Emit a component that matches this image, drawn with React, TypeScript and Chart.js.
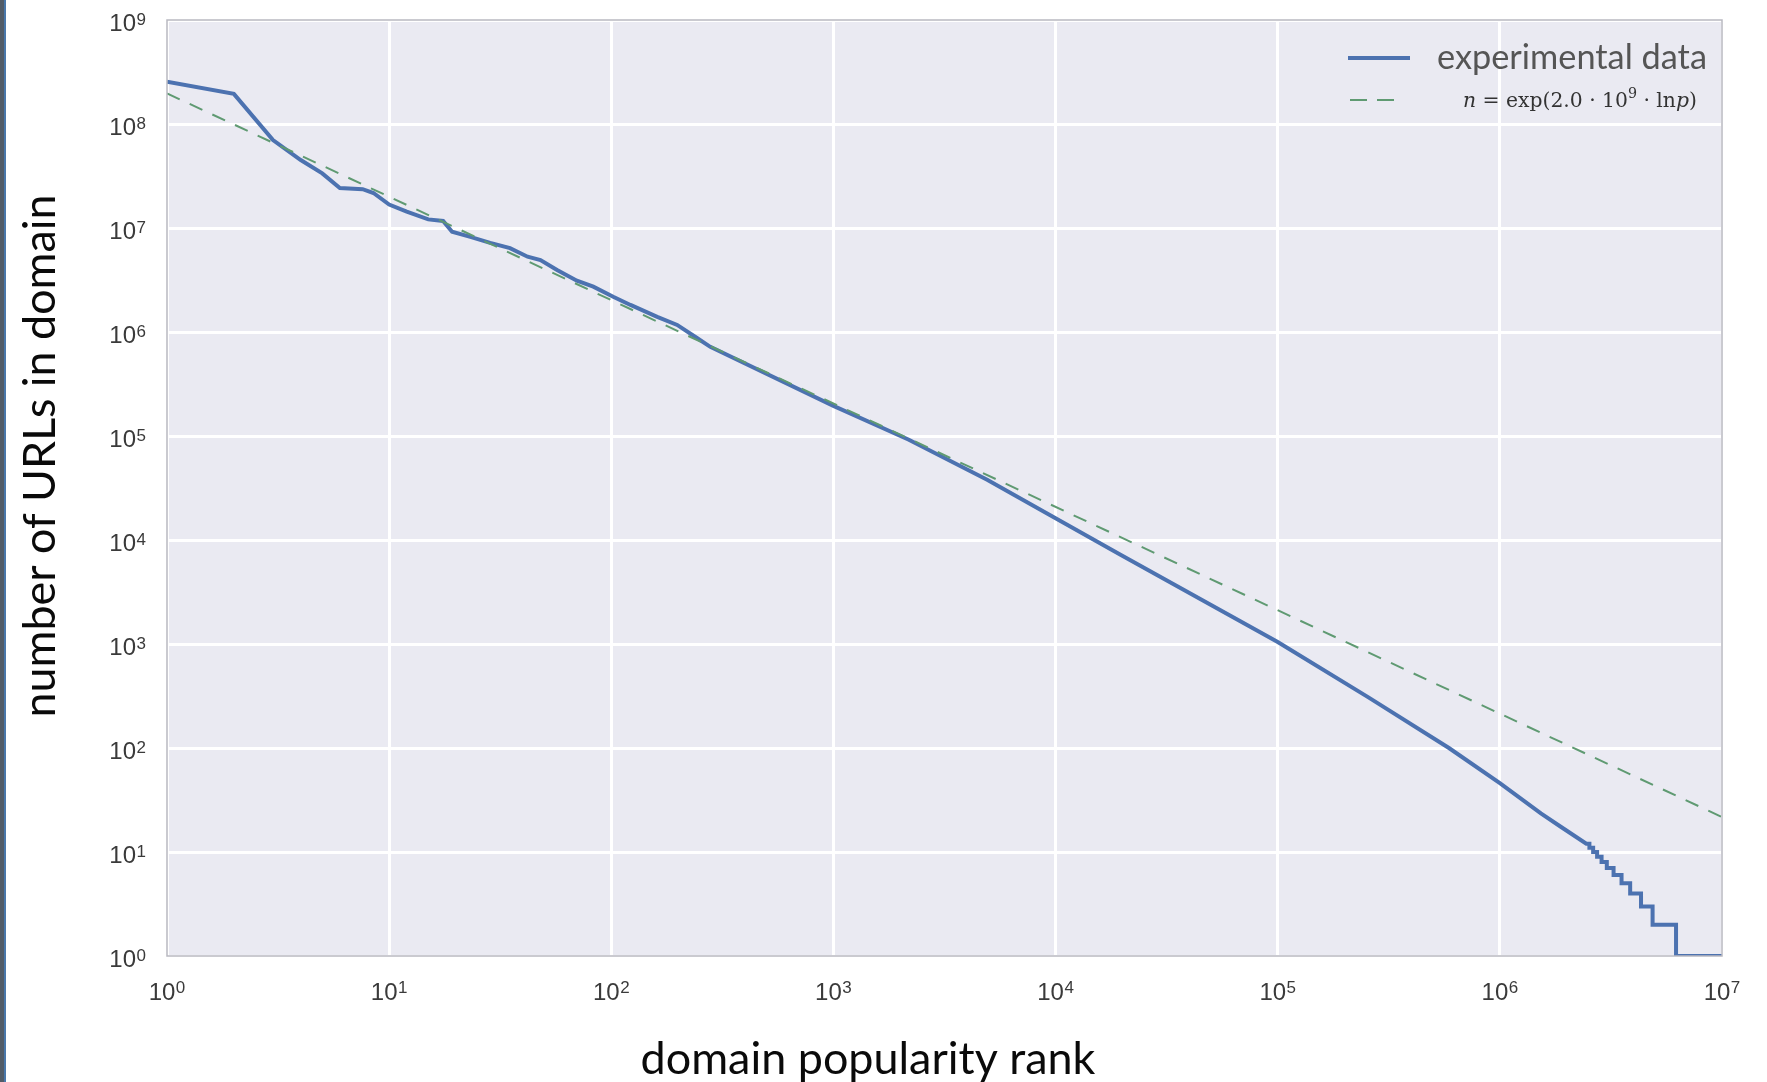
import React, { useEffect, useRef } from 'react';
import { Chart, registerables } from 'chart.js';

Chart.register(...registerables);

// ---- data ----
const rankValues = [
  1, 2, 3, 4, 5, 6, 7.6, 8.5, 10, 12,
  15, 17.5, 19.2, 23, 28.5, 35, 42, 48, 57, 70,
  83, 102, 122, 161, 198, 244, 279, 1000, 2185, 4920,
  1e4, 1.96e4, 1e5, 2.54e5, 5.9e5, 1e6, 1.53e6, 1.88e6,
  2.45e6, 2.53e6, 2.53e6, 2.63e6, 2.63e6, 2.74e6, 2.74e6, 2.87e6, 2.87e6, 3.03e6,
  3.03e6, 3.25e6, 3.25e6, 3.53e6, 3.53e6, 3.86e6, 3.86e6, 4.32e6, 4.32e6, 4.87e6,
  4.87e6, 6.21e6, 6.21e6, 1e7,
];
const urlCounts = [
  2.55e8, 1.95e8, 7.0e7, 4.5e7, 3.35e7, 2.42e7, 2.36e7, 2.17e7, 1.68e7, 1.44e7,
  1.21e7, 1.17e7, 9.2e6, 8.25e6, 7.2e6, 6.4e6, 5.3e6, 4.92e6, 3.95e6, 3.11e6,
  2.73e6, 2.18e6, 1.82e6, 1.40e6, 1.17e6, 8.7e5, 7.2e5, 1.95e5, 9.2e4, 3.8e4,
  1.62e4, 7.2e3, 1045, 310, 100, 46, 23.5, 17.5,
  12, 12, 11, 11, 10, 10, 9, 9, 8, 8,
  7, 7, 6, 6, 5, 5, 4, 4, 3, 3,
  2, 2, 1, 1,
];
const fitRanks = [1, 1e7];
const fitCounts = [1.97e8, 21.7];

const xTickExponents = [0, 1, 2, 3, 4, 5, 6, 7];
const yTickExponents = [0, 1, 2, 3, 4, 5, 6, 7, 8, 9];

const seriesLabel = 'experimental data';
const fitLabelParts = [
  { t: 'n', italic: true },
  { t: ' = exp(2.0 · 10' },
  { t: '9', sup: true },
  { t: ' · ln' },
  { t: 'p', italic: true },
  { t: ')' },
];
const xTitle = 'domain popularity rank';
const yTitle = 'number of URLs in domain';

const W = 1767;
const H = 1082;

const BLUE = '#4c72b0';
const GREEN = '#5f9a72';

function fitSize(ctx: CanvasRenderingContext2D, text: string, family: string, target: number, style = '') {
  ctx.font = `${style} 100px ${family}`;
  const w = ctx.measureText(text).width;
  return (100 * target) / w;
}

const decorPlugin = {
  id: 'decor',
  beforeDraw(chart: any) {
    const { ctx, chartArea: a } = chart;
    ctx.save();
    ctx.fillStyle = '#eaeaf2';
    ctx.fillRect(a.left, a.top, a.right - a.left, a.bottom - a.top);
    ctx.restore();
  },
  afterDraw(chart: any) {
    const { ctx, chartArea: a } = chart;
    const xs = chart.scales.x;
    const ys = chart.scales.y;
    ctx.save();

    // frame
    ctx.strokeStyle = '#b9b9c1';
    ctx.lineWidth = 1.5;
    ctx.strokeRect(a.left, a.top, a.right - a.left, a.bottom - a.top);

    const tickFont = '"Liberation Sans", Arial, sans-serif';
    ctx.fillStyle = '#3a3a3a';
    ctx.textBaseline = 'alphabetic';

    // y tick labels
    for (const e of yTickExponents) {
      const y = ys.getPixelForValue(Math.pow(10, e));
      ctx.font = `17px ${tickFont}`;
      const ew = ctx.measureText(String(e)).width;
      ctx.textAlign = 'right';
      ctx.fillText(String(e), 146, y + 5);
      ctx.font = `24px ${tickFont}`;
      ctx.fillText('10', 146 - ew - 0.5, y + 11);
    }

    // x tick labels
    for (const e of xTickExponents) {
      const x = xs.getPixelForValue(Math.pow(10, e));
      ctx.font = `24px ${tickFont}`;
      const bw = ctx.measureText('10').width;
      ctx.font = `17px ${tickFont}`;
      const ew = ctx.measureText(String(e)).width;
      const left = x - (bw + ew + 0.5) / 2;
      ctx.textAlign = 'left';
      ctx.font = `24px ${tickFont}`;
      ctx.fillText('10', left, 1000);
      ctx.font = `17px ${tickFont}`;
      ctx.fillText(String(e), left + bw + 0.5, 993);
    }

    // axis titles
    const titleFont = 'Lato, "Open Sans", sans-serif';
    ctx.fillStyle = '#0a0a0a';
    let s = fitSize(ctx, xTitle, titleFont, 455);
    ctx.font = `${s}px ${titleFont}`;
    ctx.textAlign = 'center';
    ctx.textBaseline = 'alphabetic';
    ctx.fillText(xTitle, 868, 1074);

    s = fitSize(ctx, yTitle, titleFont, 523);
    ctx.save();
    ctx.translate(39, 456);
    ctx.rotate(-Math.PI / 2);
    ctx.font = `${s}px ${titleFont}`;
    ctx.textAlign = 'center';
    ctx.textBaseline = 'middle';
    ctx.fillText(yTitle, 0, 2);
    ctx.restore();

    // legend: experimental data
    ctx.strokeStyle = BLUE;
    ctx.lineWidth = 4;
    ctx.setLineDash([]);
    ctx.beginPath();
    ctx.moveTo(1348, 58);
    ctx.lineTo(1410, 58);
    ctx.stroke();
    s = fitSize(ctx, seriesLabel, titleFont, 270);
    ctx.font = `${s}px ${titleFont}`;
    ctx.fillStyle = '#555555';
    ctx.textAlign = 'left';
    ctx.textBaseline = 'middle';
    ctx.fillText(seriesLabel, 1437, 58);

    // legend: fit
    ctx.strokeStyle = GREEN;
    ctx.lineWidth = 2;
    ctx.setLineDash([17, 10]);
    ctx.beginPath();
    ctx.moveTo(1350, 100);
    ctx.lineTo(1394, 100);
    ctx.stroke();
    ctx.setLineDash([]);

    const serif = '"DejaVu Serif", "Liberation Serif", serif';
    const base = 20;
    const measurePart = (p: any, size: number) => {
      const fs = p.sup ? size * 0.7 : size;
      ctx.font = `${p.italic ? 'italic ' : ''}${fs}px ${serif}`;
      return ctx.measureText(p.t).width;
    };
    let total = 0;
    for (const p of fitLabelParts) total += measurePart(p, base);
    const size = (base * 234) / total;
    let cx = 1463;
    ctx.fillStyle = '#333333';
    ctx.textBaseline = 'alphabetic';
    ctx.textAlign = 'left';
    for (const p of fitLabelParts) {
      const w = measurePart(p, size);
      ctx.fillText(p.t, cx, p.sup ? 100 + size * 0.35 - size * 0.45 : 100 + size * 0.35);
      cx += w;
    }

    ctx.restore();
  },
};

export default function App() {
  const ref = useRef<HTMLCanvasElement | null>(null);

  useEffect(() => {
    if (!ref.current) return;
    const chart = new Chart(ref.current, {
      type: 'line',
      data: {
        datasets: [
          {
            label: 'fit',
            data: fitRanks.map((x, i) => ({ x, y: fitCounts[i] })),
            borderColor: GREEN,
            borderWidth: 2,
            borderDash: [14, 11],
            pointRadius: 0,
            fill: false,
            tension: 0,
            order: 0,
          },
          {
            label: seriesLabel,
            data: rankValues.map((x, i) => ({ x, y: urlCounts[i] })),
            borderColor: BLUE,
            borderWidth: 4,
            pointRadius: 0,
            fill: false,
            tension: 0,
            borderJoinStyle: 'miter',
            order: 1,
          },
        ],
      },
      options: {
        responsive: false,
        devicePixelRatio: 1,
        animation: false,
        layout: { padding: { left: 167, top: 20, right: 45, bottom: 126 } },
        plugins: { legend: { display: false }, tooltip: { enabled: false } },
        scales: {
          x: {
            type: 'logarithmic',
            min: 1,
            max: 1e7,
            afterBuildTicks: (scale: any) => {
              scale.ticks = xTickExponents.map((e) => ({ value: Math.pow(10, e) }));
            },
            ticks: { display: false },
            grid: { color: '#ffffff', lineWidth: 3, drawTicks: false },
            border: { display: false },
          },
          y: {
            type: 'logarithmic',
            min: 1,
            max: 1e9,
            afterBuildTicks: (scale: any) => {
              scale.ticks = yTickExponents.map((e) => ({ value: Math.pow(10, e) }));
            },
            ticks: { display: false },
            grid: { color: '#ffffff', lineWidth: 3, drawTicks: false },
            border: { display: false },
          },
        },
      } as any,
      plugins: [decorPlugin],
    });
    return () => chart.destroy();
  }, []);

  return (
    <div style={{ position: 'fixed', left: 0, top: 0, width: W, height: H, background: '#ffffff' }}>
      <canvas ref={ref} width={W} height={H} style={{ display: 'block', width: W, height: H }} />
      <div
        style={{
          position: 'absolute',
          left: 0,
          top: 0,
          width: 6,
          height: H,
          background: 'linear-gradient(to right, #525c68 0px, #525c68 4px, #4a78ab 4px, #4a78ab 6px)',
        }}
      />
    </div>
  );
}
